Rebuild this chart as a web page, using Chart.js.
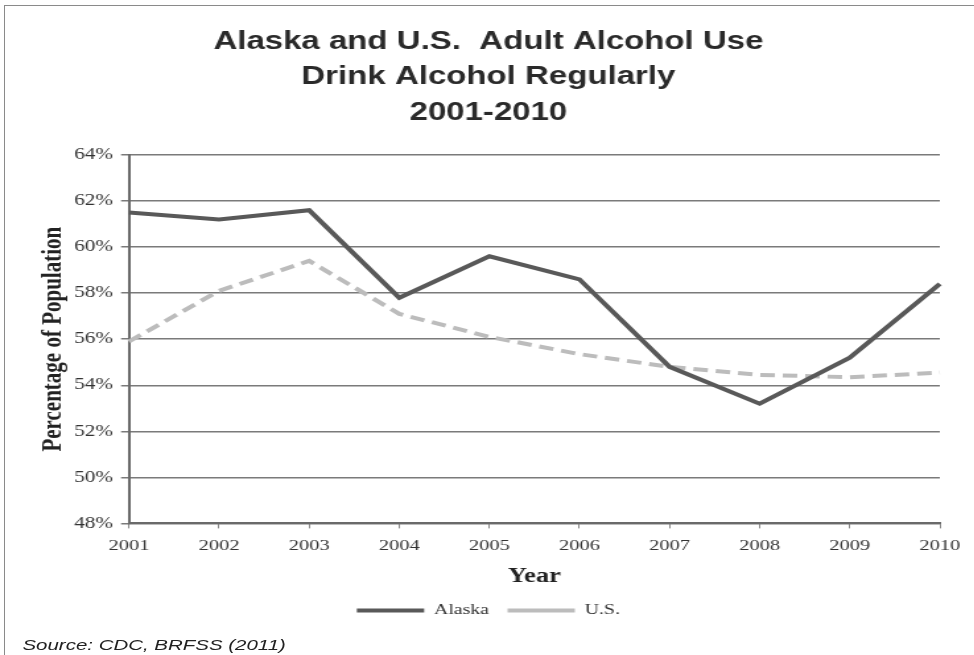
<!DOCTYPE html>
<html>
<head>
<meta charset="utf-8">
<script src="https://cdn.jsdelivr.net/npm/chart.js@4/dist/chart.umd.min.js"></script>
<style>
  html, body { margin: 0; padding: 0; background: #fff; overflow: hidden; }
  #page { position: relative; width: 974px; height: 655px; overflow: hidden; }
  #frame { position: absolute; left: 4px; top: 5px; width: 990px; height: 670px; border: 1px solid #8a8a8a; box-sizing: border-box; }
  /* the original scan is stretched horizontally, so the whole chart is widened */
  #wide { position: absolute; left: 0; top: 0; width: 738px; height: 655px; transform: scaleX(1.32); transform-origin: 0 0; }
  #chart { position: absolute; left: 0; top: 0; }
  #source { position: absolute; left: 17px; top: 636px; font: italic 15.5px "Liberation Sans", Arial, sans-serif; color: #222; white-space: nowrap; }
</style>
</head>
<body>
<div id="page">
  <div id="frame"></div>
  <div id="wide">
    <canvas id="chart" width="738" height="655"></canvas>
    <div id="source">Source: CDC, BRFSS (2011)</div>
  </div>
</div>
<script>
// Yıllar ve seriler
const years = ['2001', '2002', '2003', '2004', '2005', '2006', '2007', '2008', '2009', '2010'];
const alaska = [61.5, 61.2, 61.6, 57.8, 59.6, 58.6, 54.8, 53.2, 55.2, 58.4];
const us = [55.9, 58.1, 59.4, 57.1, 56.1, 55.35, 54.8, 54.45, 54.35, 54.55];
const titleLines = ['Alaska and U.S.  Adult Alcohol Use', 'Drink Alcohol Regularly', '2001-2010'];

const serif = 'Liberation Serif, Times New Roman, serif';
const sans = 'Liberation Sans, Arial, sans-serif';

const ctx = document.getElementById('chart').getContext('2d');

new Chart(ctx, {
  type: 'line',
  data: {
    labels: years,
    datasets: [
      {
        label: 'Alaska',
        data: alaska,
        borderColor: '#595959',
        backgroundColor: '#595959',
        borderWidth: 4,
        pointRadius: 0,
        tension: 0,
        fill: false
      },
      {
        label: 'U.S.',
        data: us,
        borderColor: '#bcbcbc',
        backgroundColor: '#bcbcbc',
        borderDash: [11, 6],
        borderWidth: 4,
        pointRadius: 0,
        tension: 0,
        fill: false
      }
    ]
  },
  options: {
    responsive: false,
    animation: false,
    layout: { padding: { left: 28, right: 26, top: 0, bottom: 27 } },
    plugins: {
      title: {
        display: true,
        text: titleLines,
        color: '#2a2a2a',
        font: { family: sans, size: 25, weight: 'bold', lineHeight: 1.42 },
        padding: { top: 24, bottom: 24.5 }
      },
      legend: {
        position: 'bottom',
        labels: {
          color: '#333',
          font: { family: serif, size: 15 },
          usePointStyle: true,
          pointStyle: 'line',
          pointStyleWidth: 51,
          padding: 14
        }
      },
      tooltip: { enabled: false }
    },
    scales: {
      x: {
        offset: false,
        ticks: { color: '#333', font: { family: serif, size: 15.5 }, padding: 8, maxRotation: 0 },
        grid: { drawOnChartArea: false, drawTicks: true, tickLength: 5, color: '#888' },
        border: { color: '#6a6a6a', width: 2 },
        title: {
          display: true,
          text: 'Year',
          color: '#222',
          font: { family: serif, size: 20, weight: 'bold' },
          padding: { top: 2, bottom: 0 }
        }
      },
      y: {
        min: 48,
        max: 64,
        ticks: {
          stepSize: 2,
          color: '#333',
          font: { family: serif, size: 16 },
          padding: 6,
          callback: v => v + '%'
        },
        grid: { color: '#7a7a7a', lineWidth: 1.5, tickLength: 6 },
        border: { color: '#6a6a6a', width: 2 },
        title: {
          display: true,
          text: 'Percentage of Population',
          color: '#222',
          font: { family: serif, size: 21, weight: 'bold' },
          padding: { top: 0, bottom: 4 }
        },
        afterFit: scale => { scale.width = 69.7; }
      }
    }
  }
});
</script>
</body>
</html>
